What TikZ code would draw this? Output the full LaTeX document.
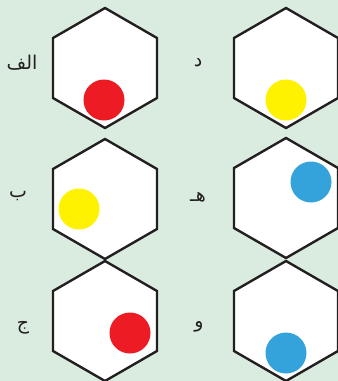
\documentclass[tikz,border=0pt]{standalone}
\usepackage{fontspec}
\newfontfamily\arabicfont[Script=Arabic]{DejaVu Sans}
\TeXXeTstate=1
\definecolor{bgc}{RGB}{217,236,223}
\definecolor{redc}{RGB}{237,28,36}
\definecolor{yelc}{RGB}{255,242,0}
\definecolor{bluc}{RGB}{52,163,220}
\definecolor{ink}{RGB}{35,31,32}
\begin{document}
\begin{tikzpicture}[x=1pt,y=-1pt,
  hexagon/.style={draw=ink, fill=white, line width=2.4pt, line join=miter},
  dot/.style={circle, inner sep=0pt, minimum size=41pt, draw=none},
  lab/.style={font=\arabicfont\fontsize{19}{22}\selectfont, text=ink, inner sep=0pt}]
\useasboundingbox (0,0) rectangle (338,381);
\clip (0,0) rectangle (338,381);
\fill[bgc] (0,0) rectangle (338,381);
\foreach \x/\y in {105/68, 286/68, 105/199, 286/198, 105/321, 286/321}
  \draw[hexagon, shift={(\x,\y)}] (0,-60) -- (52,-30) -- (52,30) -- (0,60) -- (-52,30) -- (-52,-30) -- cycle;
\node[dot, fill=redc] (d1) at (104,100) {};
\node[dot, fill=yelc] (d2) at (286,100) {};
\node[dot, fill=yelc] (d3) at (79,209) {};
\node[dot, fill=bluc] (d4) at (311,182) {};
\node[dot, fill=redc] (d5) at (130,333) {};
\node[dot, fill=bluc] (d6) at (286,353) {};
\node[lab] (l1) at (22,63) {\beginR الف\endR};
\node[lab] (l2) at (198,63) {\beginR د\endR};
\node[lab] (l3) at (18,196) {\beginR ب\endR};
\node[lab] (l4) at (198,197) {\beginR هـ\endR};
\node[lab] (l5) at (23,328) {\beginR ج\endR};
\node[lab] (l6) at (199,327) {\beginR و\endR};
\end{tikzpicture}
\end{document}
